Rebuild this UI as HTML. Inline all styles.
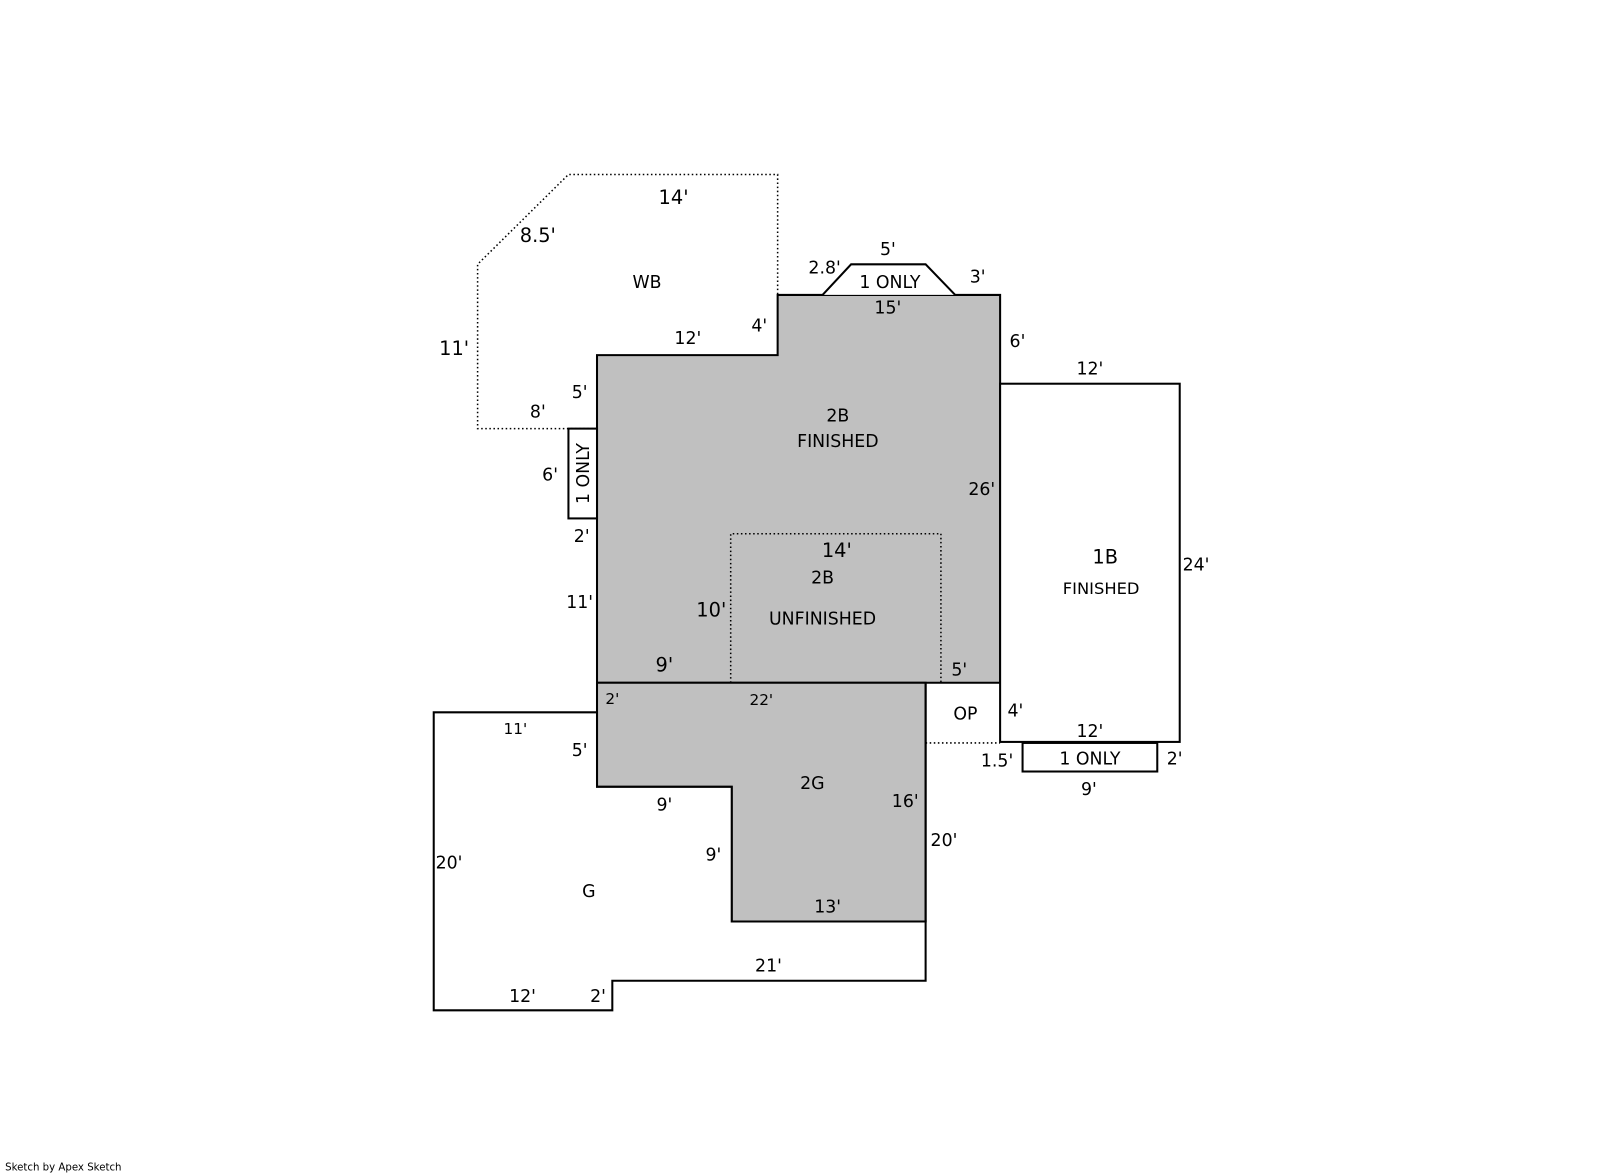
<!DOCTYPE html>
<html><head><meta charset="utf-8"><style>
html,body{margin:0;padding:0;background:#fff;}
svg{display:block;}
text{font-family:"DejaVu Sans","Liberation Sans",sans-serif;fill:#000;}
</style></head><body>
<svg width="1601" height="1174" viewBox="0 0 1568.8 1150.4" xmlns="http://www.w3.org/2000/svg">
<g fill="none" stroke="#000" stroke-width="1.5" stroke-dasharray="1.5,2.5">
<polyline points="585,420 468,420 468,259 557,171 762,171 762,289"/>
</g>
<g stroke="#000" stroke-width="2" stroke-linejoin="miter">
<polygon points="585,348 762,348 762,289 980,289 980,669 585,669" fill="#c0c0c0"/>
<polygon points="585,669 907,669 907,903 717,903 717,771 585,771" fill="#c0c0c0"/>
<polygon points="425,698 585,698 585,771 717,771 717,903 907,903 907,961 600,961 600,990 425,990" fill="#fff"/>
<line x1="907" y1="669" x2="907" y2="903" fill="none"/>
<polyline points="806,289 834,259 907,259 936,289" fill="#fff"/>
<rect x="980" y="376" width="176" height="351" fill="#fff"/>
<rect x="1002" y="728" width="132" height="28" fill="#fff"/>
<rect x="557" y="420" width="28" height="88" fill="#fff"/>
</g>
<g fill="none" stroke="#000" stroke-width="1.5" stroke-dasharray="1.5,2.5">
<polyline points="716,669 716,523 922,523 922,669"/>
<line x1="907" y1="728" x2="980" y2="728"/>
</g>
<g font-size="17" text-anchor="middle">
<text x="660" y="200" font-size="19">14'</text>
<text x="527" y="237" font-size="19">8.5'</text>
<text x="634" y="282">WB</text>
<text x="445" y="348" font-size="19">11'</text>
<text x="674" y="337">12'</text>
<text x="744" y="325">4'</text>
<text x="568" y="390">5'</text>
<text x="527" y="409">8'</text>
<text x="870" y="250">5'</text>
<text x="808" y="268">2.8'</text>
<text x="872" y="282">1 ONLY</text>
<text x="958" y="277">3'</text>
<text x="870" y="307">15'</text>
<text x="997" y="340">6'</text>
<text x="1068" y="367">12'</text>
<text x="821" y="413">2B</text>
<text x="821" y="438">FINISHED</text>
<text x="539" y="471">6'</text>
<text x="962" y="485">26'</text>
<text x="570" y="531">2'</text>
<text x="820" y="546" font-size="19">14'</text>
<text x="806" y="572">2B</text>
<text x="1083" y="552" font-size="19">1B</text>
<text x="1079" y="582" font-size="16">FINISHED</text>
<text x="1172" y="559">24'</text>
<text x="568" y="596">11'</text>
<text x="697" y="604" font-size="19">10'</text>
<text x="806" y="612">UNFINISHED</text>
<text x="651" y="658" font-size="19">9'</text>
<text x="940" y="662">5'</text>
<text x="600" y="690" font-size="15">2'</text>
<text x="746" y="691" font-size="15">22'</text>
<text x="946" y="705">OP</text>
<text x="995" y="702">4'</text>
<text x="505" y="719" font-size="15">11'</text>
<text x="1068" y="722">12'</text>
<text x="568" y="741">5'</text>
<text x="977" y="751">1.5'</text>
<text x="1068" y="749">1 ONLY</text>
<text x="1151" y="749">2'</text>
<text x="1067" y="779">9'</text>
<text x="796" y="773">2G</text>
<text x="887" y="791">16'</text>
<text x="651" y="794">9'</text>
<text x="925" y="829">20'</text>
<text x="699" y="843">9'</text>
<text x="440" y="851">20'</text>
<text x="577" y="879">G</text>
<text x="811" y="894">13'</text>
<text x="753" y="952">21'</text>
<text x="512" y="982">12'</text>
<text x="586" y="982">2'</text>
</g>
<text x="571" y="464" font-size="17" text-anchor="middle" transform="rotate(-90 571 464)" dy="6">1 ONLY</text>
<text x="5" y="1147" font-size="10">Sketch by Apex Sketch</text>
</svg>
</body></html>
